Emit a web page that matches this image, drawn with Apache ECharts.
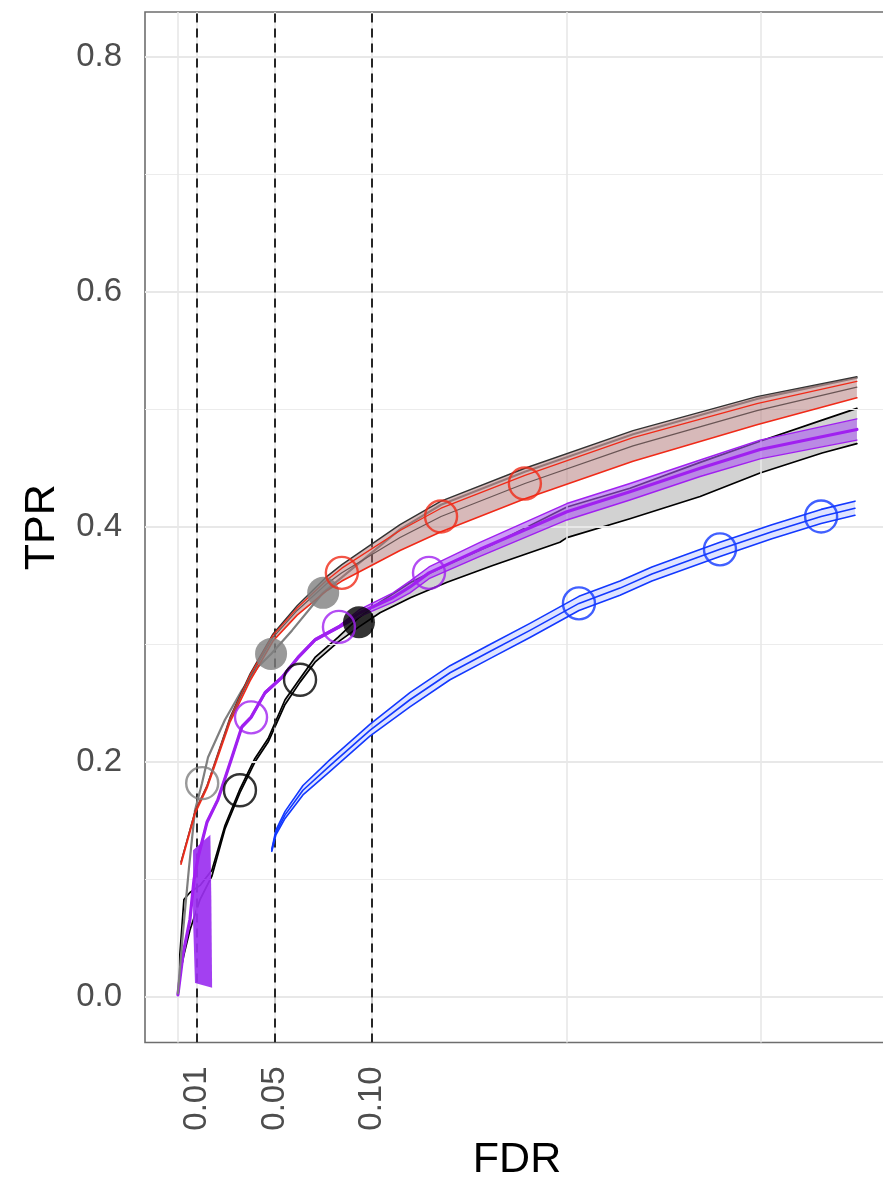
<!DOCTYPE html>
<html>
<head>
<meta charset="utf-8">
<script src="https://cdn.jsdelivr.net/npm/echarts@6/dist/echarts.min.js"></script>
<style>
  html, body { margin: 0; padding: 0; background: #ffffff; overflow: hidden; }
  #chart { width: 883px; height: 1181px; }
</style>
</head>
<body>
<div id="chart"></div>
<script>
// ---- axes ----
const xTicks = [0.01, 0.05, 0.10];
const yTicks = [0.0, 0.2, 0.4, 0.6, 0.8];
const yMinor = [0.1, 0.3, 0.5, 0.7];
const xGrid = [0, 0.01, 0.05, 0.1, 0.2, 0.3];
const fdrCutoffs = [0.01, 0.05, 0.10];

// ---- red method: replicate spread (lo/hi), inner replicate and centre curve ----
const redFdr = [0.0018, 0.0090, 0.0152, 0.0270, 0.0373, 0.0491, 0.0615, 0.0769, 0.0845, 0.1144, 0.1355, 0.1786, 0.2342, 0.2979, 0.3493];
const redMid = [0.114, 0.157, 0.179, 0.236, 0.272, 0.306, 0.329, 0.352, 0.361, 0.391, 0.409, 0.437, 0.469, 0.499, 0.519];
const redRep = [0.115, 0.158, 0.180, 0.237, 0.274, 0.308, 0.331, 0.355, 0.365, 0.397, 0.416, 0.444, 0.476, 0.505, 0.524];
const redHi  = [0.115, 0.158, 0.180, 0.238, 0.275, 0.309, 0.333, 0.358, 0.368, 0.402, 0.422, 0.450, 0.482, 0.511, 0.528];
const redLo  = [0.113, 0.156, 0.178, 0.234, 0.269, 0.303, 0.325, 0.346, 0.354, 0.380, 0.396, 0.424, 0.456, 0.487, 0.510];

// ---- grey method ----
const greyFdr = [0.0002, 0.0028, 0.0059, 0.0090, 0.0126, 0.0157, 0.0244, 0.0331, 0.0414, 0.0481, 0.0589, 0.0748, 0.1144, 0.1355, 0.1786, 0.2342, 0.2979, 0.3493];
const greyTpr = [0.003, 0.055, 0.110, 0.159, 0.182, 0.204, 0.236, 0.261, 0.281, 0.292, 0.312, 0.344, 0.398, 0.419, 0.447, 0.479, 0.509, 0.527];

// ---- black method ----
const blackFdr = [0.0002, 0.0012, 0.0033, 0.0064, 0.0116, 0.0177, 0.0244, 0.0321, 0.0398, 0.0466, 0.0553, 0.0630, 0.0707, 0.0825, 0.0933, 0.1041, 0.1200, 0.1386, 0.1617, 0.1966, 0.2002, 0.2326, 0.2687, 0.2995, 0.3314, 0.3493];
const blackHi  = [0.003, 0.036, 0.083, 0.089, 0.095, 0.108, 0.146, 0.177, 0.203, 0.220, 0.253, 0.271, 0.289, 0.306, 0.323, 0.336, 0.353, 0.368, 0.385, 0.414, 0.417, 0.433, 0.455, 0.473, 0.491, 0.501];
const blackLo  = [0.000, 0.019, 0.036, 0.057, 0.083, 0.103, 0.143, 0.174, 0.200, 0.217, 0.249, 0.268, 0.285, 0.302, 0.315, 0.327, 0.340, 0.353, 0.367, 0.387, 0.391, 0.407, 0.426, 0.446, 0.463, 0.471];

// ---- purple method ----
const purpleFdr = [0.0002, 0.0028, 0.0064, 0.0085, 0.0106, 0.0152, 0.0208, 0.0280, 0.0331, 0.0378, 0.0450, 0.0537, 0.0620, 0.0707, 0.0830, 0.0938, 0.1108, 0.1195, 0.1293, 0.1555, 0.2002, 0.2326, 0.2687, 0.2995, 0.3493];
const purpleMid = [0.002, 0.036, 0.066, 0.100, 0.119, 0.149, 0.168, 0.204, 0.230, 0.238, 0.259, 0.272, 0.289, 0.304, 0.315, 0.327, 0.340, 0.349, 0.361, 0.381, 0.413, 0.430, 0.450, 0.466, 0.483];
const purpleHi  = [0.003, 0.037, 0.067, 0.101, 0.120, 0.150, 0.169, 0.205, 0.231, 0.239, 0.260, 0.273, 0.290, 0.305, 0.316, 0.330, 0.344, 0.354, 0.366, 0.387, 0.420, 0.437, 0.457, 0.474, 0.492];
const purpleLo  = [0.001, 0.035, 0.065, 0.099, 0.118, 0.148, 0.167, 0.203, 0.229, 0.237, 0.258, 0.271, 0.288, 0.303, 0.314, 0.324, 0.336, 0.344, 0.356, 0.375, 0.406, 0.423, 0.443, 0.458, 0.474];
// spread of the purple replicates at the most stringent thresholds
const purpleSpreadFdr = [0.0090, 0.0080, 0.0080, 0.0169, 0.0174, 0.0178];
const purpleSpreadTpr = [0.012, 0.065, 0.125, 0.138, 0.083, 0.008];

// ---- blue method ----
const blueFdr = [0.0485, 0.0506, 0.0553, 0.0645, 0.0784, 0.0989, 0.1195, 0.1401, 0.1606, 0.1812, 0.2064, 0.2275, 0.2439, 0.2789, 0.3056, 0.3309, 0.3483];
const blueMid = [0.125, 0.140, 0.155, 0.176, 0.197, 0.227, 0.253, 0.276, 0.294, 0.312, 0.335, 0.348, 0.360, 0.381, 0.396, 0.409, 0.416];
const blueHi  = [0.126, 0.142, 0.158, 0.180, 0.202, 0.232, 0.259, 0.282, 0.300, 0.318, 0.341, 0.354, 0.366, 0.387, 0.402, 0.415, 0.422];
const blueLo  = [0.124, 0.138, 0.152, 0.172, 0.192, 0.222, 0.247, 0.270, 0.288, 0.306, 0.329, 0.342, 0.354, 0.375, 0.390, 0.403, 0.410];

// ---- threshold markers (open = nominal, filled = observed) ----
const greyOpenPts    = [[0.0127, 0.182]];
const greyFilledPts  = [[0.0481, 0.292], [0.0749, 0.344]];
const redOpenPts     = [[0.0845, 0.361], [0.1355, 0.409], [0.1786, 0.437]];
const blackOpenPts   = [[0.0321, 0.176], [0.0630, 0.270]];
const blackFilledPts = [[0.0933, 0.319]];
const purpleOpenPts  = [[0.0378, 0.238], [0.0830, 0.315], [0.1293, 0.361]];
const blueOpenPts    = [[0.2064, 0.335], [0.2789, 0.381], [0.3309, 0.409]];

const FONT = '"Liberation Sans", Arial, Helvetica, sans-serif';
const RED = '#f02a18', GREY = '#7f7f7f', PURPLE = '#a020f0', BLUE = '#1238ff';

const pairs = (xs, ys) => xs.map((x, i) => [x, ys[i]]);

// filled region between a lower and an upper curve
function band(xs, lo, hi, fill, z) {
  return {
    type: 'custom', coordinateSystem: 'cartesian2d', silent: true, z,
    data: [[xs[0], lo[0]]],
    renderItem: (params, api) => {
      const pts = [];
      for (let i = 0; i < xs.length; i++) pts.push(api.coord([xs[i], hi[i]]));
      for (let i = xs.length - 1; i >= 0; i--) pts.push(api.coord([xs[i], lo[i]]));
      return { type: 'polygon', shape: { points: pts }, style: { fill: fill } };
    }
  };
}
// closed polygon through the given vertices
function patch(xs, ys, fill, z) {
  return {
    type: 'custom', coordinateSystem: 'cartesian2d', silent: true, z,
    data: [[xs[0], ys[0]]],
    renderItem: (params, api) => ({
      type: 'polygon',
      shape: { points: xs.map((x, i) => api.coord([x, ys[i]])) },
      style: { fill: fill }
    })
  };
}
function curve(xs, ys, color, width, z) {
  return {
    type: 'line', data: pairs(xs, ys), symbol: 'none', showSymbol: false,
    lineStyle: { color, width, join: 'round', cap: 'round' }, silent: true, z
  };
}
function dots(pts, color, filled, z) {
  return {
    type: 'scatter', data: pts, symbol: 'circle', symbolSize: 32, silent: true, z,
    itemStyle: filled ? { color: color }
                      : { color: 'rgba(0,0,0,0)', borderColor: color, borderWidth: 2.4 }
  };
}

const gridLines = [];
yTicks.forEach(v => gridLines.push({ yAxis: v, lineStyle: { color: '#e8e8e8', width: 2, type: 'solid' } }));
yMinor.forEach(v => gridLines.push({ yAxis: v, lineStyle: { color: '#ececec', width: 1.1, type: 'solid' } }));
xGrid.forEach(v => gridLines.push({ xAxis: v, lineStyle: { color: '#e8e8e8', width: 1.6, type: 'solid' } }));

const chart = echarts.init(document.getElementById('chart'), null, { renderer: 'canvas' });
chart.setOption({
  animation: false,
  backgroundColor: '#ffffff',
  grid: {
    left: 145, top: 12, width: 744, height: 1030.5,
    containLabel: false, outerBoundsMode: 'none',
    show: true, borderColor: '#6e6e6e', borderWidth: 1.6, backgroundColor: '#ffffff'
  },
  xAxis: {
    type: 'value', min: -0.01671, max: 0.3658,
    name: 'FDR', nameLocation: 'middle', nameGap: 92,
    nameTextStyle: { fontSize: 43, color: '#000', fontFamily: FONT },
    axisLine: { show: false }, splitLine: { show: false },
    axisTick: { show: true, customValues: xTicks, length: 10, lineStyle: { color: '#333', width: 1.6 } },
    axisLabel: { customValues: xTicks, rotate: 90, margin: 24, fontSize: 33, color: '#4d4d4d',
                 fontFamily: FONT, formatter: v => v.toFixed(2) }
  },
  yAxis: {
    type: 'value', min: -0.0387, max: 0.8383,
    name: 'TPR', nameLocation: 'middle', nameGap: 81,
    nameTextStyle: { fontSize: 43, color: '#000', fontFamily: FONT },
    axisLine: { show: false }, splitLine: { show: false },
    axisTick: { show: true, customValues: yTicks, length: 10, lineStyle: { color: '#333', width: 1.6 } },
    axisLabel: { customValues: yTicks, margin: 23, fontSize: 33, color: '#4d4d4d',
                 fontFamily: FONT, formatter: v => v.toFixed(1) }
  },
  series: [
    // panel grid
    { type: 'line', data: [], z: 1, silent: true,
      markLine: { silent: true, symbol: 'none', label: { show: false }, animation: false, data: gridLines } },

    // black method
    band(blackFdr.slice(5), blackLo.slice(5), blackHi.slice(5), '#d2d2d2', 3),
    curve(blackFdr, blackHi, '#000', 1.7, 4),
    curve(blackFdr, blackLo, '#000', 1.7, 4),

    // purple method
    band(purpleFdr, purpleLo, purpleHi, 'rgba(170,90,240,0.6)', 5),
    curve(purpleFdr, purpleHi, PURPLE, 1.4, 6),
    curve(purpleFdr, purpleLo, PURPLE, 1.4, 6),
    curve(purpleFdr, purpleMid, PURPLE, 3.2, 6),
    patch(purpleSpreadFdr, purpleSpreadTpr, 'rgba(155,48,240,0.92)', 6),

    // grey method
    curve(greyFdr, greyTpr, GREY, 2.2, 6),

    // red method
    band(redFdr, redLo, redHi, 'rgba(175,115,115,0.5)', 7),
    curve(redFdr, redHi, '#333', 1.4, 8),
    curve(redFdr, redRep, RED, 1.3, 8),
    curve(redFdr, redMid, '#6a5555', 1.2, 8),
    curve(redFdr, redLo, RED, 1.6, 8),

    // blue method
    band(blueFdr, blueLo, blueHi, 'rgba(220,225,255,0.9)', 7),
    curve(blueFdr, blueHi, BLUE, 1.6, 8),
    curve(blueFdr, blueLo, BLUE, 1.6, 8),
    curve(blueFdr, blueMid, BLUE, 1.6, 8),

    // FDR cut-offs
    { type: 'line', data: [], z: 9, silent: true,
      markLine: { silent: true, symbol: 'none', label: { show: false }, animation: false,
        lineStyle: { color: '#111', width: 1.8, type: [9, 6] },
        data: fdrCutoffs.map(v => ({ xAxis: v })) } },

    // threshold markers
    dots(greyOpenPts, GREY, false, 10),
    dots(greyFilledPts, GREY, true, 10),
    dots(redOpenPts, RED, false, 10),
    dots(blackOpenPts, '#000', false, 10),
    dots(blackFilledPts, '#000', true, 10),
    dots(purpleOpenPts, PURPLE, false, 10),
    dots(blueOpenPts, BLUE, false, 10)
  ]
});
</script>
</body>
</html>
